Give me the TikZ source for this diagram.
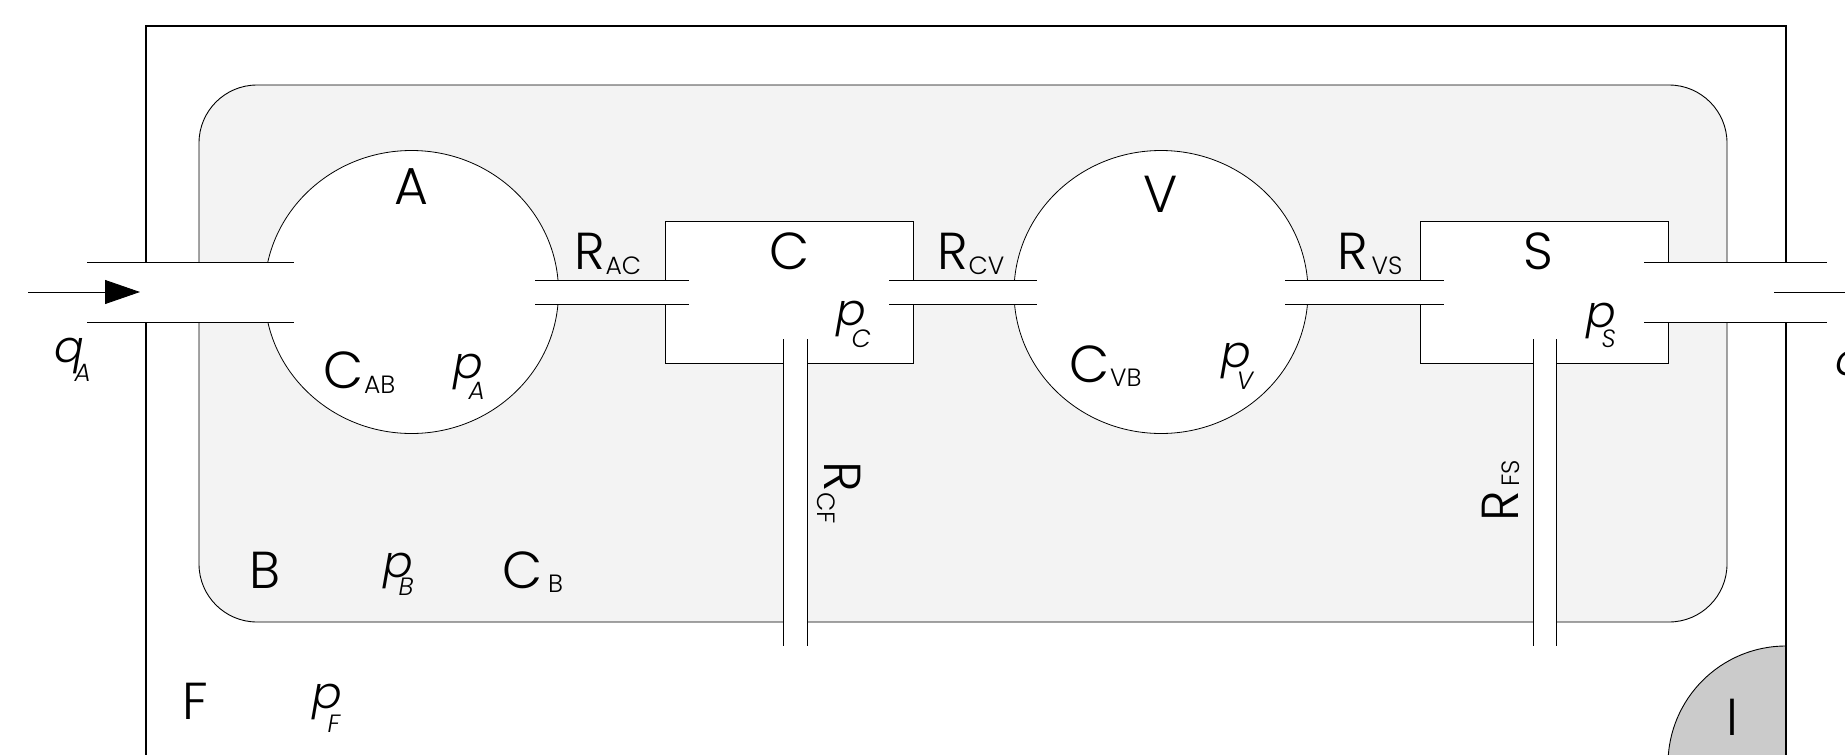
\documentclass[tikz,border=0pt]{standalone}
\usepackage{fontspec}
\setmainfont{Poppins}[UprightFont=*-Light,ItalicFont=*-LightItalic,BoldFont=*-Light]
\usetikzlibrary{arrows.meta,shapes.geometric}
\definecolor{bodygray}{HTML}{F3F3F3}
\definecolor{vesselgray}{HTML}{CBCBCB}
\newcommand\subt[3]{\kern#1pt\raisebox{-#2pt}{\fontsize{25}{25}\selectfont #3}}
\tikzset{
  x=1pt,y=-1pt,
  wall/.style={line width=0.9pt,draw=black},
  frameline/.style={line width=1.6pt,draw=black},
  chamberE/.style={ellipse,draw=black,line width=0.8pt,fill=white,minimum width=294pt,minimum height=283pt,inner sep=0pt,outer sep=0pt},
  chamberR/.style={rectangle,draw=black,line width=0.9pt,fill=white,minimum width=248pt,minimum height=142pt,inner sep=0pt,outer sep=0pt},
  lab/.style={anchor=base west,inner sep=0pt,outer sep=0pt,font=\fontsize{52}{52}\selectfont},
  labI/.style={lab,font=\fontsize{44}{44}\selectfont\itshape},
}
\newcommand\pipeH[4]{\fill[white] (#1,#3) rectangle (#2,#4);\draw[wall] (#1,#3) -- (#2,#3) (#1,#4) -- (#2,#4);}
\newcommand\pipeV[4]{\fill[white] (#1,#3) rectangle (#2,#4);\draw[wall] (#1,#3) -- (#1,#4) (#2,#3) -- (#2,#4);}
\begin{document}
\begin{tikzpicture}
\useasboundingbox (0,0) rectangle (1845,755);
\clip (0,0) rectangle (1845,755);
\fill[white] (0,0) rectangle (1845,755);
% vessel I
\begin{scope}
\clip (1600,600) rectangle (1786,800);
\draw[line width=0.9pt,fill=vesselgray] (1786,764) circle [radius=118];
\end{scope}
% frame F
\draw[frameline] (146,800) -- (146,26) -- (1786,26) -- (1786,800);
% body B
\draw[wall,fill=bodygray,rounded corners=58pt] (199,85) rectangle (1727,622);
% chambers
\node[chamberE] (A) at (411.5,292) {};
\node[chamberE] (V) at (1161,292) {};
\node[chamberR] (Cb) at (789,292) {};
\node[chamberR] (Sb) at (1544,292) {};
% pipes
\pipeH{87}{294}{262}{322}
\pipeH{535}{689}{280}{304}
\pipeH{889}{1037}{280}{304}
\pipeH{1285}{1444}{280}{304}
\pipeH{1644}{1827}{262}{322}
\pipeV{783}{807}{339}{646}
\pipeV{1533}{1556}{339}{646}
% flows
\coordinate (qAs) at (28,292);
\coordinate (qAe) at (140,292);
\coordinate (qSs) at (1774,292);
\coordinate (qSe) at (1860,292);
\draw[line width=0.9pt,-{Triangle[length=35pt,width=24pt]}] (qAs) -- (qAe);
\draw[line width=0.9pt] (qSs) -- (qSe);
% labels
\node[lab] (tA) at (394,204) {A};
\node[lab] (tCAB) at (323,388) {C\subt{1}{5}{AB}};
\node[labI] (tpA) at (453,378) {p\subt{-14}{21}{\itshape A}};
\node[labI] (tqA) at (54,362) {q\subt{-9}{19}{\itshape A}};
\node[lab] (tRAC) at (574,269) {R\subt{1}{5}{AC}};
\node[lab] (tC) at (769,269) {C};
\node[labI] (tpC) at (836,325) {p\subt{-14}{22}{\itshape C}};
\node[lab] (tRCV) at (937,269) {R\subt{1}{5}{CV}};
\node[lab,rotate=-90,anchor=base west] (tRCF) at (824,461) {R\subt{1}{7}{CF}};
\node[lab] (tV) at (1143,212) {V};
\node[lab] (tCVB) at (1069,382) {C\subt{1}{4}{VB}};
\node[labI] (tpV) at (1221,367) {p\subt{-14}{22}{\itshape V}};
\node[lab] (tRVS) at (1337,269) {R\subt{4}{5}{VS}};
\node[lab] (tS) at (1523,269) {S};
\node[labI] (tpS) at (1586,327) {p\subt{-14}{20}{\itshape S}};
\node[labI] (tqS) at (1835,375) {q\subt{-9}{19}{\itshape S}};
\node[lab,rotate=90,anchor=base west] (tRFS) at (1518,521) {R\subt{4}{1}{FS}};
\node[lab] (tB) at (249,588) {B};
\node[labI] (tpB) at (383,577) {p\subt{-14}{18}{\itshape B}};
\node[lab] (tCB) at (502,588) {C\subt{6}{4}{B}};
\node[lab] (tF) at (182,719) {F};
\node[labI] (tpF) at (312,708) {p\subt{-14}{24}{\itshape F}};
\node[lab] (tI) at (1726,735) {I};
\end{tikzpicture}
\end{document}
